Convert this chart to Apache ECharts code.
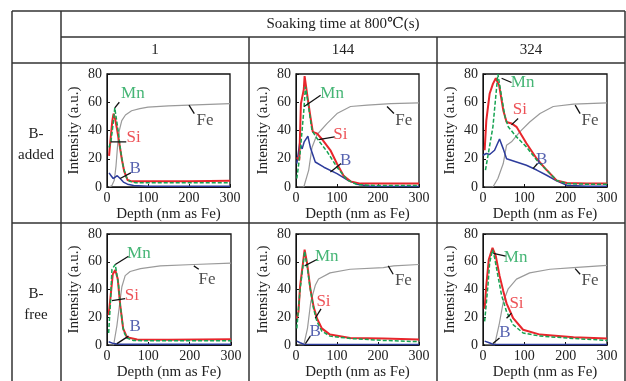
<!DOCTYPE html>
<html>
<head>
<meta charset="utf-8">
<script src="https://cdn.jsdelivr.net/npm/echarts@6/dist/echarts.min.js"></script>
<style>
html,body{margin:0;padding:0;background:#fff}
#main{width:626px;height:381px}
</style>
</head>
<body>
<div id="main"></div>
<script>
// column / row headers
var colTitle = 'Soaking time at 800℃(s)';
var colNames = ['1', '144', '324'];
var rowNames = [['B-', 'added'], ['B-', 'free']];
var xTicks = [0, 100, 200, 300];
var yTicks = [0, 20, 40, 60, 80];

// B-added, 1 s
var feA1 = [[5,0],[12,1],[18,5],[22,15],[26,30],[30,40],[36,47],[45,51],[60,54],[80,55.5],[100,56.5],[150,57.5],[200,58],[250,58.5],[300,59]];
var mnA1 = [[5,28],[10,33],[15,45],[19,56],[23,48],[28,38],[33,26],[40,14],[47,7],[55,4],[70,3],[100,3],[200,3],[300,3]];
var siA1 = [[5,22],[9,35],[13,47],[16,52],[20,48],[25,40],[30,31],[36,20],[42,11],[50,5],[60,4],[100,4],[200,4],[300,4.5]];
var bA1  = [[5,10],[10,8],[15,6],[20,7],[25,8],[32,6],[40,3.5],[50,2],[65,1],[100,0.5],[300,0.5]];
// B-added, 144 s
var feA2 = [[5,0],[19,0],[31,12],[39,28],[51,37],[76,45],[100,52],[133,57],[174,58],[231,59],[300,59.5]];
var mnA2 = [[2,6],[10,24],[19,54],[23,71],[28,62],[33,52],[39,40],[51,34.5],[76,25],[100,14],[125,5],[149,1.7],[200,1],[300,1]];
var siA2 = [[2,21],[8,19],[12,59],[19,69],[21,78.5],[28,64],[35,50],[41,39],[51,38],[63,34],[84,26],[100,16.5],[116,8],[133,4],[157,2.4],[200,2.5],[300,2.5]];
var bA2  = [[2,16.5],[9,31],[15,27],[20,32],[29,36],[35,28],[47,17.7],[68,14],[100,9.5],[125,5],[149,2],[182,0.5],[300,0.3]];
// B-added, 324 s
var feA3 = [[5,0],[24,0],[36,6],[49,16.6],[57,29.6],[69,32],[89,39],[113,46],[138,52],[170,57],[219,58.7],[300,59.6]];
var mnA3 = [[6,12],[24,42.6],[36,80],[45,64],[53,50],[61,42.6],[81,35.5],[105,28.4],[130,19],[154,12],[178,4.7],[203,2.4],[250,2],[300,2]];
var siA3 = [[4,26],[8,47],[16,66],[24,73],[31,77],[39,72],[49,54.4],[57,46],[69,45],[81,42.6],[105,31],[130,20],[154,12],[178,4.7],[203,2.8],[250,2.5],[300,2.5]];
var bA3  = [[0,22.5],[8,23.7],[16,23],[28,26],[40,34],[49,27],[57,20],[81,17.7],[105,15.4],[130,12],[154,8.3],[178,4.3],[203,1.2],[250,0.5],[300,0.5]];
// B-free, 1 s
var feF1 = [[5,0],[16,0],[24,14],[31,30.6],[36,42],[44,50],[56,53],[81,55],[129,57],[210,58],[300,59]];
var mnF1 = [[4,8.7],[8,28.7],[12,54.6],[20,58],[28,43],[32,28.7],[40,10],[48,5],[64,3.3],[100,3],[200,3],[300,3]];
var siF1 = [[4,21.6],[8,33],[14,51],[20,54],[26,47.5],[32,28.7],[39,12],[48,5.6],[73,4],[150,3.8],[300,4.2]];
var bF1  = [[4,2.3],[16,1],[30,0.5],[300,0.5]];
// B-free, 144 s
var feF2 = [[5,0],[19,0],[28,12],[36,31],[47,43],[55,47.5],[83,52],[132,54.6],[213,55.8],[238,57],[300,58]];
var mnF2 = [[2,12],[10,40],[17,57],[21,67.5],[27,57],[35,40],[43,26],[51,17],[63,10],[83,6.4],[132,4.7],[213,3.3],[300,2.4]];
var siF2 = [[2,19],[6,24],[10,42.4],[17,59],[21,68.7],[27,59],[35,40.5],[43,27.5],[51,19.3],[63,12],[83,7.5],[132,5],[213,4.7],[300,4]];
var bF2  = [[2,2.8],[10,1.6],[19,0.5],[300,0.3]];
// B-free, 324 s
var feF3 = [[5,0],[28,0],[39,14.6],[49,31],[61,40.5],[81,47.5],[113,52],[162,54.6],[219,55.8],[300,57.4]];
var mnF3 = [[4,17],[12,43],[16,59],[23,68.7],[28,63],[36,50],[45,35.8],[57,24],[73,14.6],[97,8.7],[138,6.4],[219,4.7],[300,3.3]];
var siF3 = [[4,26],[8,43],[14,61.6],[23,70],[31,64],[40,50],[49,39],[57,30],[73,19.3],[97,11],[138,7.5],[219,5.6],[300,4.7]];
var bF3  = [[4,2.8],[15,1.6],[24,0.5],[300,0.3]];

// curve labels [x, y, text] and their leader lines [x1, y1, x2, y2]
var tagA1 = [[63,66,'Mn'],[239,47,'Fe'],[65,35,'Si'],[69,13,'B']];
var legA1 = [[30,60,19,56],[213,52,200,58],[47,32,9,32],[58,10,32,6]];
var tagA2 = [[88,66,'Mn'],[263,47,'Fe'],[108,37,'Si'],[121,19,'B']];
var legA2 = [[60,65,20,57],[239,52,222,57],[94,35.5,55,33.6],[110,16.6,84,10.6]];
var tagA3 = [[96,74,'Mn'],[259,47,'Fe'],[89,55,'Si'],[142,19.4,'B']];
var legA3 = [[69,74,45,77],[235,52,223,58],[85,48.5,69,44],[132,16.6,121,13]];
var tagF1 = [[77,66,'Mn'],[242,47.5,'Fe'],[60,35.8,'Si'],[68,13.4,'B']];
var legF1 = [[52,64,20,58],[222,54.6,210,57],[44,33.4,12,32],[52,6.4,24,1]];
var tagF2 = [[75,63.5,'Mn'],[262,46.5,'Fe'],[67,31,'Si'],[47,10,'B']];
var legF2 = [[51,61.6,21,57],[237,51,225,57],[61,26,47,19.3],[35,6.4,23,1]];
var tagF3 = [[79,63,'Mn'],[259,46.5,'Fe'],[81,30,'Si'],[53,8.7,'B']];
var legF3 = [[55,64,25,66],[235,51,223,55],[69,23,57,19.3],[40,5,24,1]];

var FONT = "'Liberation Serif','DejaVu Serif',serif";
var C = {Fe:'#9a9a9a', Mn:'#16a352', Si:'#e8262c', B:'#2d3c9c', FeText:'#222'};

var panels = [
  {left:107, top:74, w:123, fe:feA1, mn:mnA1, si:siA1, b:bA1, tag:tagA1, leg:legA1},
  {left:296, top:74, w:123, fe:feA2, mn:mnA2, si:siA2, b:bA2, tag:tagA2, leg:legA2},
  {left:483, top:74, w:124, fe:feA3, mn:mnA3, si:siA3, b:bA3, tag:tagA3, leg:legA3},
  {left:107, top:234, w:124, fe:feF1, mn:mnF1, si:siF1, b:bF1, tag:tagF1, leg:legF1},
  {left:296, top:234, w:123, fe:feF2, mn:mnF2, si:siF2, b:bF2, tag:tagF2, leg:legF2},
  {left:483, top:234, w:124, fe:feF3, mn:mnF3, si:siF3, b:bF3, tag:tagF3, leg:legF3}
];

var grids = [], xAxes = [], yAxes = [], series = [];

panels.forEach(function (p, i) {
  grids.push({left:p.left, top:p.top, width:p.w, height:113, show:true, borderColor:'#111', borderWidth:1.3, backgroundColor:'transparent'});
  xAxes.push({
    gridIndex:i, type:'value', min:xTicks[0], max:xTicks[xTicks.length-1], interval:100,
    name:'Depth (nm as Fe)', nameLocation:'middle', nameGap:20,
    nameTextStyle:{fontFamily:FONT, fontSize:15, color:'#222'},
    axisLine:{lineStyle:{color:'#111'}}, axisTick:{inside:true, length:3, lineStyle:{color:'#111'}},
    axisLabel:{fontFamily:FONT, fontSize:14, color:'#222', margin:4},
    splitLine:{show:false}
  });
  yAxes.push({
    gridIndex:i, type:'value', min:yTicks[0], max:yTicks[yTicks.length-1], interval:20,
    name:'Intensity (a.u.)', nameLocation:'middle', nameGap:25,
    nameTextStyle:{fontFamily:FONT, fontSize:15, color:'#222'},
    axisLine:{show:true, lineStyle:{color:'#111'}}, axisTick:{inside:true, length:3, lineStyle:{color:'#111'}},
    axisLabel:{fontFamily:FONT, fontSize:14, color:'#222', margin:5},
    splitLine:{show:false}
  });
  function ln(name, data, color, w, type, z) {
    series.push({type:'line', name:name, xAxisIndex:i, yAxisIndex:i, data:data, showSymbol:false, symbol:'none',
      lineStyle:{color:color, width:w, type:type || 'solid'}, z:z || 2});
  }
  ln('Fe', p.fe, C.Fe, 1.2);
  ln('B', p.b, C.B, 1.5);
  ln('Si', p.si, C.Si, 2);
  ln('Mn', p.mn, C.Mn, 1.5, [4, 2]);
  // leader lines
  p.leg.forEach(function (l) {
    ln('leader', [[l[0], l[1]], [l[2], l[3]]], '#111', 1.3, 'solid', 4);
  });
  series.push({
    type:'scatter', xAxisIndex:i, yAxisIndex:i, symbolSize:0, z:5,
    data:p.tag.map(function (t) {
      return {value:[t[0], t[1]], name:t[2],
        label:{color:t[2] === 'Fe' ? C.FeText : C[t[2]]}};
    }),
    label:{show:true, position:'inside', formatter:'{b}', fontFamily:FONT, fontSize:17}
  });
});

// table frame
var X = [12, 61, 249, 437, 625], Y = [11, 37, 63, 223, 381];
var lineStyle = {stroke:'#333', lineWidth:1.5};
var gfx = [];
function hl(x1, x2, y) { gfx.push({type:'line', shape:{x1:x1, y1:y, x2:x2, y2:y}, style:lineStyle, silent:true}); }
function vl(x, y1, y2) { gfx.push({type:'line', shape:{x1:x, y1:y1, x2:x, y2:y2}, style:lineStyle, silent:true}); }
hl(X[0], X[4], Y[0]); hl(X[1], X[4], Y[1]); hl(X[0], X[4], Y[2]); hl(X[0], X[4], Y[3]);
vl(X[0], Y[0], Y[4]); vl(X[1], Y[0], Y[4]); vl(X[2], Y[1], Y[4]); vl(X[3], Y[1], Y[4]); vl(X[4], Y[0], Y[4]);
function txt(s, x, y) {
  gfx.push({type:'text', x:x, y:y, style:{text:s, fill:'#222', font:'15px ' + FONT, textAlign:'center', textVerticalAlign:'middle'}});
}
txt(colTitle, (X[1] + X[4]) / 2, 24);
colNames.forEach(function (s, k) { txt(s, (X[k + 1] + X[k + 2]) / 2, 50); });
txt(rowNames[0][0], 36, 134); txt(rowNames[0][1], 36, 155);
txt(rowNames[1][0], 36, 294); txt(rowNames[1][1], 36, 315);

var chart = echarts.init(document.getElementById('main'));
chart.setOption({
  animation:false,
  backgroundColor:'#fff',
  grid:grids, xAxis:xAxes, yAxis:yAxes, series:series,
  graphic:gfx
});
</script>
</body>
</html>
